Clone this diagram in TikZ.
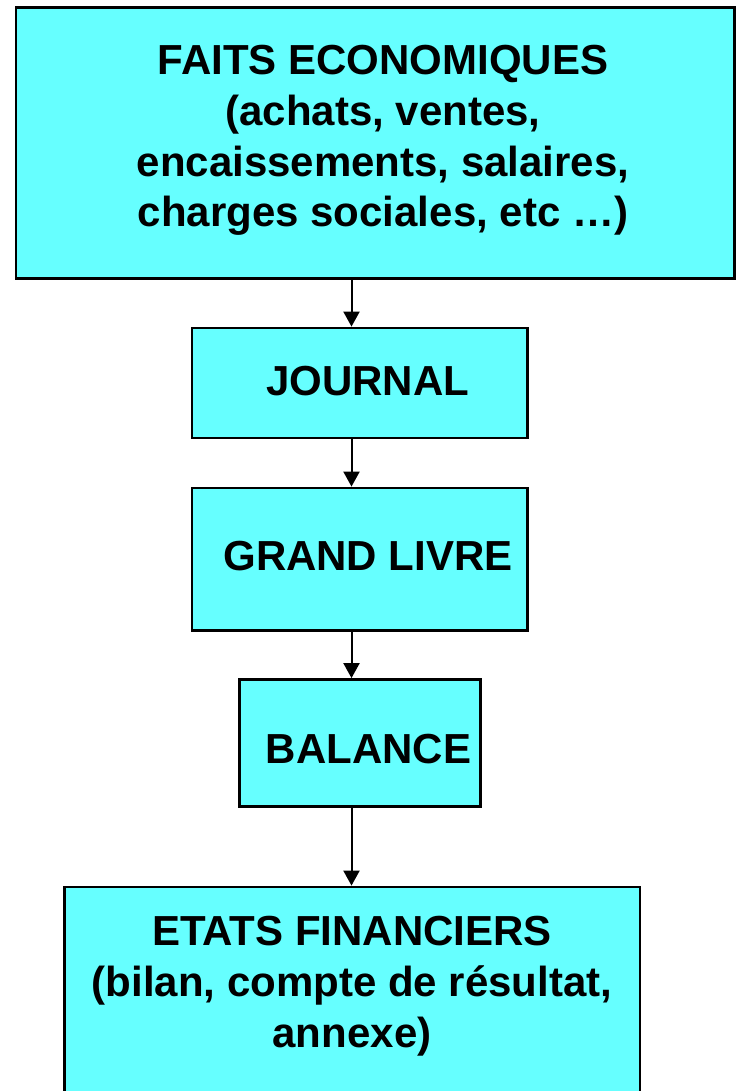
\documentclass[tikz,border=0pt]{standalone}
\usepackage{fontspec}
\setmainfont{Liberation Sans}
\usetikzlibrary{arrows.meta}
\definecolor{boxcyan}{RGB}{102,255,255}
\begin{document}
\begin{tikzpicture}[x=0.75pt,y=-0.75pt,
  box/.style={draw=black, line width=2.1pt, fill=boxcyan, rectangle, inner sep=0pt},
  lbl/.style={font=\fontsize{31.5pt}{38pt}\selectfont\bfseries, align=center, inner sep=0pt, anchor=base},
  flow/.style={line width=1.5pt, -{Triangle[width=12pt,length=11.25pt]}}]
\useasboundingbox (0,0) rectangle (736,1091);

% boxes of the accounting chain
\node[box, minimum width=538.875pt, minimum height=203.25pt] (faits) at (375.25,143) {};
\node[box, minimum width=251.625pt, minimum height=82.5pt] (journal) at (359.75,383) {};
\node[box, minimum width=251.625pt, minimum height=106.875pt] (grandlivre) at (359.75,559.25) {};
\node[box, minimum width=180.75pt, minimum height=95.25pt] (balance) at (360,743) {};
\node[box, minimum width=431.625pt, minimum height=159.75pt] (etats) at (352.25,993.5) {};

% box texts (a multi-line node sits on the baseline of its last line)
\node[lbl] (faitsT) at (383,227) {FAITS ECONOMIQUES\\(achats, ventes,\\encaissements, salaires,\\charges sociales, etc …)};
\node[lbl] (journalT) at (367.5,395) {JOURNAL};
\node[lbl] (grandlivreT) at (368,570) {GRAND LIVRE};
\node[lbl] (balanceT) at (368.5,763) {BALANCE};
\node[lbl] (etatsT) at (352,1047) {ETATS FINANCIERS\\(bilan, compte de résultat,\\annexe)};

% connectors
\coordinate (axis) at (351.5,0);
\draw[flow] (faits.south -| axis) -- (journal.north -| axis);
\draw[flow] (journal.south -| axis) -- (grandlivre.north -| axis);
\draw[flow] (grandlivre.south -| axis) -- (balance.north -| axis);
\draw[flow] (balance.south -| axis) -- (etats.north -| axis);
\end{tikzpicture}
\end{document}
